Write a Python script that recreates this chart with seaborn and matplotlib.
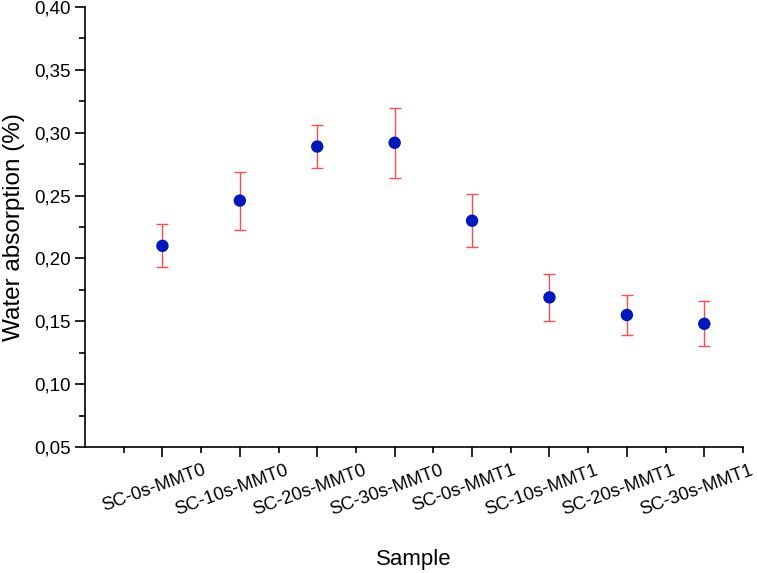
import numpy as np
import pandas as pd
import seaborn as sns
import matplotlib
matplotlib.use("Agg")
import matplotlib.pyplot as plt
import matplotlib.transforms as mtransforms
from matplotlib.ticker import MultipleLocator, FixedLocator, FuncFormatter

# Data
samples = ["SC-0s-MMT0", "SC-10s-MMT0", "SC-20s-MMT0", "SC-30s-MMT0",
           "SC-0s-MMT1", "SC-10s-MMT1", "SC-20s-MMT1", "SC-30s-MMT1"]
absorption = [0.210, 0.246, 0.289, 0.292, 0.230, 0.169, 0.155, 0.148]
upper = [0.227, 0.269, 0.306, 0.320, 0.251, 0.188, 0.171, 0.166]
lower = [0.193, 0.223, 0.272, 0.264, 0.209, 0.150, 0.139, 0.130]

df = pd.DataFrame({"sample": samples, "absorption": absorption,
                   "upper": upper, "lower": lower})
df["pos"] = np.arange(len(df))

sns.set_style("ticks")
plt.rcParams['font.family'] = ['Liberation Sans', 'DejaVu Sans']
plt.rcParams['text.color'] = 'black'
plt.rcParams['axes.labelcolor'] = 'black'
plt.rcParams['xtick.color'] = 'black'
plt.rcParams['ytick.color'] = 'black'

fig = plt.figure(figsize=(7.57, 5.73), dpi=100)
ax = fig.add_axes([0.1123, 0.2199, 0.8692, 0.7679])

# error bars (asymmetric)
yerr = np.vstack([df.absorption - df.lower, df.upper - df.absorption])
ax.errorbar(df.pos, df.absorption, yerr=yerr, fmt='none', ecolor='#ff4d4d',
            elinewidth=1.0, capsize=4.5, capthick=1.0, zorder=2)

sns.scatterplot(data=df, x="pos", y="absorption", ax=ax, color='#0019bf',
                s=80, edgecolor='none', zorder=3, legend=False)

ax.set_xlim(-1, 7.5)
ax.set_ylim(0.05, 0.40)
ax.xaxis.set_major_locator(FixedLocator(df.pos.tolist()))
ax.xaxis.set_minor_locator(FixedLocator(list(np.arange(-0.5, 7.6, 1.0))))
ax.set_xticklabels(samples, rotation=20, ha='center', fontsize=13.2)
ax.yaxis.set_major_locator(MultipleLocator(0.05))
ax.yaxis.set_minor_locator(MultipleLocator(0.025))
ax.yaxis.set_major_formatter(FuncFormatter(lambda v, p: f"{v:.2f}".replace('.', ',')))
ax.tick_params(axis='y', labelsize=13.5)
ax.tick_params(which='major', direction='out', length=7, width=1.2, color='black')
ax.tick_params(which='minor', direction='out', length=4, width=1.2, color='black')

ax.set_xlabel("Sample", fontsize=16, labelpad=22)
ax.set_ylabel("Water absorption (%)", fontsize=17.5, labelpad=6)

sns.despine(ax=ax)
for s in ['left', 'bottom']:
    ax.spines[s].set_linewidth(1.2)
    ax.spines[s].set_color('black')

# nudge rotated category labels a little left, as in the original
fig.canvas.draw()
shift = mtransforms.ScaledTranslation(-8 / 100, 0, fig.dpi_scale_trans)
for tick in ax.xaxis.get_major_ticks():
    tick.label1.set_transform(tick.label1.get_transform() + shift)

fig.savefig("out.png", dpi=100)
